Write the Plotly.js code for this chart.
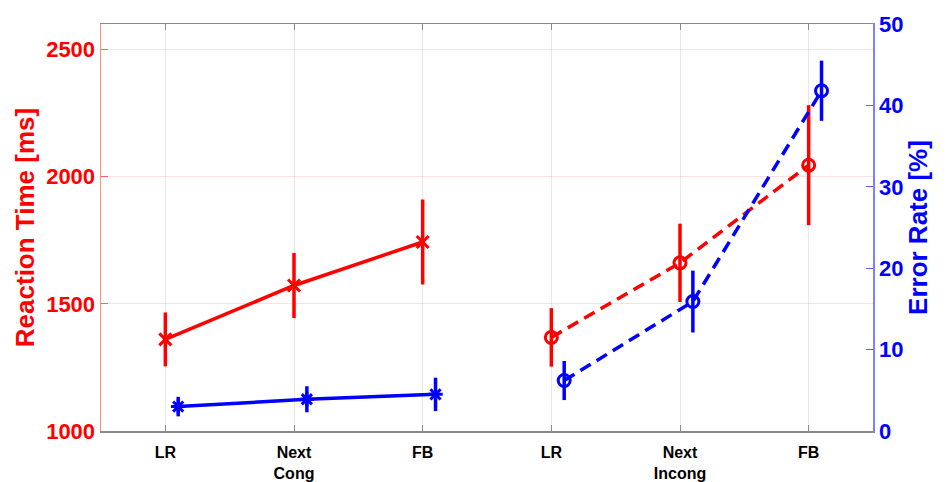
<!DOCTYPE html>
<html>
<head>
<meta charset="utf-8">
<script src="https://cdn.plot.ly/plotly-3.0.1.min.js"></script>
<style>html,body{margin:0;padding:0;background:#fff;}#chart{width:946px;height:482px;}</style>
</head>
<body>
<div id="chart"></div>
<script>
// Categories / tick labels
const tickPositions = [1, 2, 3, 4, 5, 6];
const tickLabels = ['LR', 'Next<br>Cong', 'FB', 'LR', 'Next<br>Incong', 'FB'];

// Reaction time (ms), left axis
const rtCongX = [1, 2, 3];
const rtCong = [1360, 1572, 1743];
const rtCongErr = [106, 128, 167];
const rtIncongX = [4, 5, 6];
const rtIncong = [1368, 1661, 2045];
const rtIncongErr = [115, 154, 236];

// Error rate (%), right axis (plotted with a small offset)
const erCongX = [1.1, 2.1, 3.1];
const erCong = [3.0, 3.9, 4.5];
const erCongErr = [1.2, 1.6, 2.05];
const erIncongX = [4.1, 5.1, 6.1];
const erIncong = [6.2, 15.9, 41.8];
const erIncongErr = [2.4, 3.8, 3.7];

const RED = '#ff0000', BLUE = '#0000ff';
const fam = 'Liberation Sans, Arial, Helvetica, sans-serif';

function tr(x, y, e, color, symbol, dash, yaxis) {
  return {
    x: x, y: y, yaxis: yaxis, type: 'scatter', mode: 'lines+markers',
    line: {color: color, width: 3.5, dash: dash},
    marker: {symbol: symbol, size: 12, color: color, line: {color: color, width: 3}},
    error_y: {type: 'data', array: e, visible: true, color: color, thickness: 3.5, width: 0},
    showlegend: false, hoverinfo: 'skip'
  };
}

const data = [
  tr(rtCongX, rtCong, rtCongErr, RED, 'x-thin-open', 'solid', 'y'),
  tr(rtIncongX, rtIncong, rtIncongErr, RED, 'circle-open', '12px,7px', 'y'),
  tr(erCongX, erCong, erCongErr, BLUE, 'asterisk-open', 'solid', 'y2'),
  tr(erIncongX, erIncong, erIncongErr, BLUE, 'circle-open', '12px,7px', 'y2')
];

const layout = {
  width: 946, height: 482,
  margin: {l: 101, r: 73, t: 24, b: 51},
  paper_bgcolor: '#fff', plot_bgcolor: '#fff',
  xaxis: {
    range: [0.5, 6.5], tickmode: 'array', tickvals: tickPositions, ticktext: tickLabels,
    showgrid: true, gridcolor: '#e8e8e8', gridwidth: 1, zeroline: false,
    showline: true, linecolor: '#8a8a8a', linewidth: 1.5, mirror: 'ticks',
    ticks: 'inside', ticklen: 6, tickcolor: '#8a8a8a', tickwidth: 1,
    ticklabelstandoff: 6,
    tickfont: {family: fam, size: 16, color: '#000', weight: 'bold'},
    automargin: false
  },
  yaxis: {
    range: [1000, 2600], tickvals: [1000, 1500, 2000, 2500],
    showgrid: true, gridcolor: 'rgba(255,0,0,0.12)', zeroline: false,
    showline: true, linecolor: '#ff9090', linewidth: 1.5,
    ticks: 'inside', ticklen: 7, tickcolor: '#ff6060', tickwidth: 1,
    tickfont: {family: fam, size: 22, color: RED, weight: 'bold'},
    title: {text: 'Reaction Time [ms]', font: {family: fam, size: 26, color: RED, weight: 'bold'}, standoff: 4},
    automargin: false
  },
  yaxis2: {
    overlaying: 'y', side: 'right', range: [0, 50], tickvals: [0, 10, 20, 30, 40, 50],
    showgrid: false, zeroline: false,
    showline: true, linecolor: '#8080ff', linewidth: 1.5,
    ticks: 'inside', ticklen: 7, tickcolor: '#6060ff', tickwidth: 1,
    tickfont: {family: fam, size: 22, color: BLUE, weight: 'bold'},
    title: {text: 'Error Rate [%]', font: {family: fam, size: 26, color: BLUE, weight: 'bold'}, standoff: 6},
    automargin: false
  }
};

Plotly.newPlot('chart', data, layout, {staticPlot: true, displayModeBar: false});
</script>
</body>
</html>
